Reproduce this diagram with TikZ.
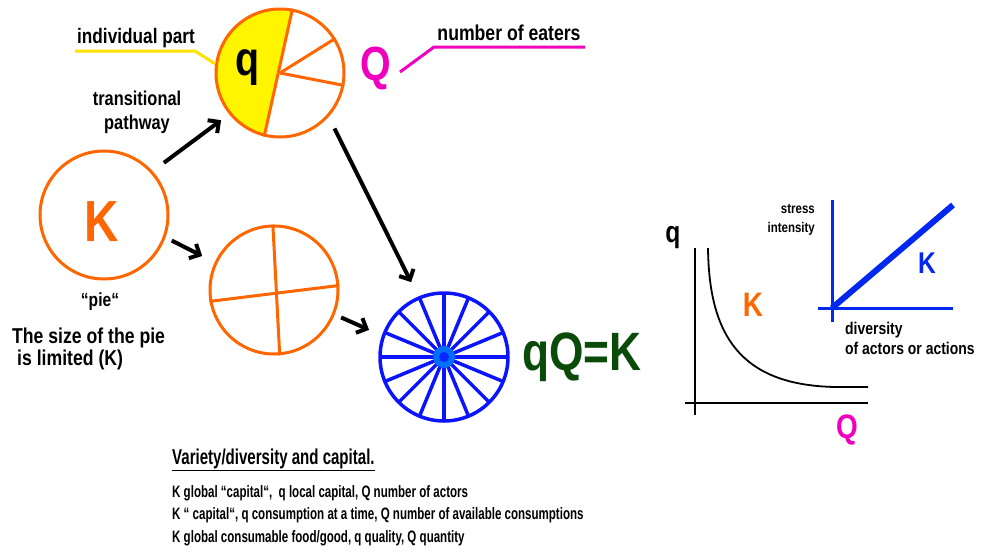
\documentclass[tikz,border=0pt]{standalone}
\usepackage{fontspec}
\setmainfont{Liberation Sans}[FakeStretch=0.82]
\newfontfamily\condfont{Liberation Sans}[FakeStretch=0.7]
\usetikzlibrary{arrows.meta,calc}
\definecolor{pieorange}{RGB}{255,102,0}
\definecolor{pieyellow}{RGB}{255,245,0}
\definecolor{linkyellow}{RGB}{255,225,0}
\definecolor{eatmag}{RGB}{240,0,190}
\definecolor{darkgreen}{RGB}{10,75,10}
\definecolor{wheelblue}{RGB}{10,20,255}
\definecolor{hubblue}{RGB}{0,110,255}
\definecolor{insetblue}{RGB}{0,40,240}
\tikzset{
  pie/.style={circle, draw=pieorange, line width=3pt, minimum size=128pt, inner sep=0pt},
  wheel/.style={circle, draw=wheelblue, line width=3.5pt, minimum size=128pt, inner sep=0pt},
  pieline/.style={draw=pieorange, line width=3pt},
  spoke/.style={draw=wheelblue, line width=3.5pt},
  flow/.style={draw=black, line width=4pt, -{Straight Barb[length=8pt,width=16pt,line width=4pt]}},
  lbl/.style={inner sep=0pt, font=\bfseries\fontsize{16}{19}\selectfont},
  axis/.style={draw=black, line width=2.2pt},
  baxis/.style={draw=insetblue, line width=3pt},
}
\begin{document}
\begin{tikzpicture}[x=1pt,y=-1pt]
\useasboundingbox (0,0) rectangle (983,552);

% yellow individual part (drawn first, under the circle)
\coordinate (qcen) at (280,73);
\begin{scope}
  \clip (qcen) circle[radius=64];
  \fill[pieyellow] ([shift={(79:64pt)}]qcen) -- ([shift={(256:64pt)}]qcen) -- (200,150) -- (200,0) -- cycle;
\end{scope}

% circles
\node[pie] (qc) at (qcen) {};
\node[pie] (kc) at (104,215) {};
\node[pie] (fc) at (274,290) {};
\node[wheel] (wc) at (444,357) {};

\draw[pieline] (qc.79) -- (qc.256);
\draw[pieline] (qc.center) -- (qc.32);
\draw[pieline] (qc.center) -- (qc.-11);

% four part circle
\draw[pieline] (fc.91) -- (fc.275.5);
\draw[pieline] (fc.190.3) -- (fc.4.3);

% wheel
\foreach \a in {0,22.5,...,337.5}
  \draw[spoke] (wc.center) -- ([shift={(\a:63pt)}]wc.center);
\fill[hubblue] (wc.center) circle[radius=11];
\fill[wheelblue!80!hubblue] (wc.center) circle[radius=5];

% letters
\node[inner sep=0pt, font=\bfseries\fontsize{48}{48}\selectfont] (qletter) at (248,68) {q};
\node[inner sep=0pt, text=pieorange, font=\bfseries\fontsize{58}{58}\selectfont] (kletter) at (102,222) {K};
\node[inner sep=0pt, text=eatmag, font=\bfseries\fontsize{48}{48}\selectfont] (Qletter) at (376,68) {Q};
\node[inner sep=0pt, text=darkgreen, font=\bfseries\fontsize{54}{54}\selectfont] (eq) at (582,357) {qQ=K};

% labels
\node[lbl, font=\bfseries\fontsize{21}{24}\selectfont] (ip) at (136,38) {individual part};
\coordinate (ipa) at (75,51);
\coordinate (ipb) at (195,51);
\draw[linkyellow, line width=3pt] (ipa) -- (ipb) -- (qc.172);

\node[lbl, font=\bfseries\fontsize{21.5}{24}\selectfont] (ne) at (509,33) {number of eaters};
\coordinate (nea) at (400,72);
\coordinate (neb) at (434,47);
\coordinate (nec) at (585,47);
\draw[eatmag, line width=3pt] (nea) -- (neb) -- (nec);

\node[lbl, align=center, font=\bfseries\fontsize{20}{24}\selectfont] (tp) at (137,112) {transitional\\pathway};
\node[lbl, font=\bfseries\fontsize{19}{20}\selectfont] (pie) at (100,302) {“pie“};
\node[lbl, align=left, anchor=west, font=\bfseries\fontsize{21.5}{22}\selectfont] (size) at (12,349) {The size of the pie\\[0pt]\hspace*{5pt}is limited (K)};

% arrows
\draw[flow, shorten <=14pt, shorten >=10pt] (kc.42) -- (qc.219);
\draw[flow, shorten <=7pt, shorten >=14pt] (kc.-20.7) -- (fc.155);
\draw[flow, shorten <=7pt, shorten >=14pt] (fc.-22) -- (wc.161);
\draw[flow, shorten <=13pt, shorten >=16pt] (qc.-42.4) -- (wc.113);

% graph
\coordinate (gy1) at (695,248);
\coordinate (gy2) at (695,415);
\coordinate (gx1) at (685,403);
\coordinate (gx2) at (868,403);
\draw[axis] (gy1) -- (gy2);
\draw[axis] (gx1) -- (gx2);
\coordinate (c0) at (708,248);
\coordinate (c1) at (835,387);
\coordinate (c2) at (868,387);
\draw[black, line width=1.8pt] (c0) .. controls (709,335) and (740,385) .. (c1) -- (c2);
\node[inner sep=0pt, font=\bfseries\fontsize{30}{30}\selectfont] (gq) at (673,238) {q};
\node[inner sep=0pt, text=pieorange, font=\bfseries\fontsize{34}{34}\selectfont] (gK) at (753,305) {K};
\node[inner sep=0pt, text=eatmag, font=\bfseries\fontsize{34}{34}\selectfont] (gQ) at (847,430) {Q};

% inset
\coordinate (iy1) at (832,200);
\coordinate (iy2) at (832,322);
\coordinate (ix1) at (818,308);
\coordinate (ix2) at (953,308);
\coordinate (io) at (832,308);
\coordinate (id) at (953,205);
\draw[baxis] (iy1) -- (iy2);
\draw[baxis] (ix1) -- (ix2);
\draw[insetblue, line width=6pt] (io) -- (id);
\node[inner sep=0pt, text=insetblue, font=\bfseries\fontsize{30}{30}\selectfont] (iK) at (927,263) {K};
\node[inner sep=0pt, align=right, anchor=east, font=\bfseries\fontsize{14}{19}\selectfont] (si) at (815,220) {stress\\intensity};
\node[inner sep=0pt, align=left, anchor=west, font=\bfseries\fontsize{17}{20}\selectfont] (dv) at (845,338) {diversity\\of actors or actions};

% bottom text
\node[inner sep=0pt, anchor=west, font=\condfont\bfseries\fontsize{21.5}{22}\selectfont] (head) at (172,460) {\underline{Variety/diversity and capital.}};
\node[inner sep=0pt, anchor=north west, align=left, font=\condfont\bfseries\fontsize{16.5}{22.5}\selectfont] (body) at (172,485) {K global “capital“,\ \ q local capital, Q number of actors\\K “ capital“, q consumption at a time, Q number of available consumptions\\K global consumable food/good, q quality, Q quantity};
\end{tikzpicture}
\end{document}
